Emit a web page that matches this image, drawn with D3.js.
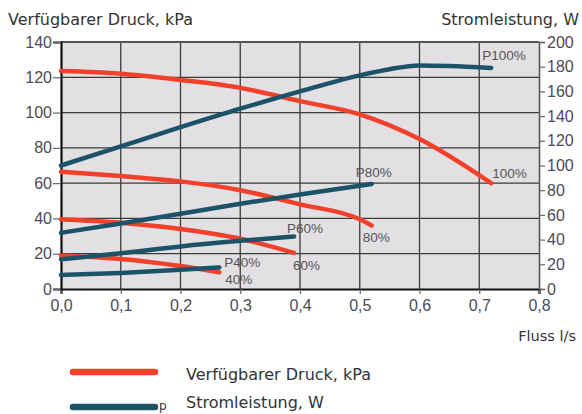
<!DOCTYPE html>
<html>
<head>
<meta charset="utf-8">
<script src="https://cdn.jsdelivr.net/npm/d3@7"></script>
<style>
  body { margin: 0; background: #fff; }
  svg { display: block; }
</style>
</head>
<body>
<svg class="svg"></svg>
<script>
// flow values (l/s) and readings per curve
const druck100 = [[0, 123.5], [0.1, 122], [0.2, 118.5], [0.3, 114], [0.4, 106.5], [0.5, 99], [0.6, 85], [0.72, 60]];
const druck80 = [[0, 66.5], [0.1, 64], [0.2, 61], [0.3, 56], [0.4, 48], [0.5, 39.5], [0.52, 36]];
const druck60 = [[0, 39.5], [0.1, 37.5], [0.2, 34], [0.3, 28.5], [0.39, 20.5]];
const druck40 = [[0, 19], [0.1, 17], [0.2, 13], [0.265, 9.5]];

const strom100 = [[0, 100], [0.1, 115.5], [0.2, 131], [0.3, 146], [0.4, 160], [0.5, 173], [0.55, 178], [0.6, 181], [0.65, 180.5], [0.72, 179]];
const strom80 = [[0, 45.5], [0.1, 53], [0.2, 61], [0.3, 69], [0.4, 76.5], [0.52, 85]];
const strom60 = [[0, 24], [0.1, 29], [0.2, 34.5], [0.3, 39], [0.39, 42.5]];
const strom40 = [[0, 11.3], [0.1, 13], [0.2, 15.5], [0.265, 17.5]];

const xTicks = [0, 0.1, 0.2, 0.3, 0.4, 0.5, 0.6, 0.7, 0.8];
const leftTicks = [0, 20, 40, 60, 80, 100, 120, 140];
const rightTicks = [0, 20, 40, 60, 80, 100, 120, 140, 160, 180, 200];

const druckLabels = ['100%', '80%', '60%', '40%'];
const stromLabels = ['P100%', 'P80%', 'P60%', 'P40%'];

const width = 582;
const height = 414;
const padding = { top: 42, right: 43, down: 125, left: 61 };

const red = '#f2402a';
const blue = '#1d5368';
const textColor = '#4b4b57';

const svg = d3.select('.svg')
  .attr('width', width)
  .attr('height', height);

const xScale = d3.scaleLinear()
  .domain([0, 0.8])
  .range([padding.left, width - padding.right]);
const yLeft = d3.scaleLinear()
  .domain([0, 140])
  .range([height - padding.down, padding.top]);
const yRight = d3.scaleLinear()
  .domain([0, 200])
  .range([height - padding.down, padding.top]);

const comma = d => d3.format('.1f')(d).replace('.', ',');

/* plot background */
svg.append('rect')
  .attr('x', xScale(0))
  .attr('y', yLeft(140))
  .attr('width', xScale(0.8) - xScale(0))
  .attr('height', yLeft(0) - yLeft(140))
  .attr('fill', '#e2e0e2');

/* grid */
svg.append('g')
  .selectAll('line')
  .data(xTicks.slice(1, -1)).enter()
  .append('line')
  .attr('x1', d => xScale(d)).attr('x2', d => xScale(d))
  .attr('y1', yLeft(140)).attr('y2', yLeft(0))
  .attr('stroke', '#3c3c3c').attr('stroke-width', 1.3);
svg.append('g')
  .selectAll('line')
  .data(leftTicks.slice(1, -1)).enter()
  .append('line')
  .attr('x1', xScale(0)).attr('x2', xScale(0.8))
  .attr('y1', d => yLeft(d)).attr('y2', d => yLeft(d))
  .attr('stroke', '#3c3c3c').attr('stroke-width', 1.3);

/* top border */
svg.append('line')
  .attr('x1', xScale(0)).attr('x2', xScale(0.8))
  .attr('y1', yLeft(140)).attr('y2', yLeft(140))
  .attr('stroke', '#555').attr('stroke-width', 2);

/* axes */
const xAxis = d3.axisBottom(xScale)
  .tickValues(xTicks)
  .tickFormat(comma)
  .tickSize(5);
const leftAxis = d3.axisLeft(yLeft)
  .tickValues(leftTicks)
  .tickSize(8);
const rightAxis = d3.axisRight(yRight)
  .tickValues(rightTicks)
  .tickSize(6);

const gx = svg.append('g')
  .attr('id', 'x-axis')
  .attr('transform', `translate(0, ${yLeft(0)})`)
  .call(xAxis);
const gl = svg.append('g')
  .attr('id', 'y-axis')
  .attr('transform', `translate(${xScale(0)}, 0)`)
  .call(leftAxis);
const gr = svg.append('g')
  .attr('id', 'y-axis-right')
  .attr('transform', `translate(${xScale(0.8)}, 0)`)
  .call(rightAxis);

[gx, gl, gr].forEach(g => {
  g.select('.domain').attr('stroke', '#111').attr('stroke-width', 2.2);
  g.selectAll('.tick line').attr('stroke', '#666').attr('stroke-width', 1.2);
  g.selectAll('.tick text')
    .attr('fill', textColor)
    .style('font-family', 'Liberation Sans, Arial, sans-serif')
    .style('font-size', '16px');
});
gr.select('.domain').attr('stroke', '#555').attr('stroke-width', 1.6);
gx.selectAll('.tick text').attr('dy', '0.85em');
gl.selectAll('.tick text').attr('x', -9);
gr.selectAll('.tick text').attr('x', 8);

/* curves */
const line = (yScale) => d3.line()
  .x(d => xScale(d[0]))
  .y(d => yScale(d[1]))
  .curve(d3.curveMonotoneX);

const druckSeries = [druck100, druck80, druck60, druck40];
const stromSeries = [strom100, strom80, strom60, strom40];

svg.append('g')
  .selectAll('path')
  .data(druckSeries).enter()
  .append('path')
  .attr('d', d => line(yLeft)(d))
  .attr('fill', 'none')
  .attr('stroke', red)
  .attr('stroke-width', 4.5)
  .attr('stroke-linecap', 'round');

svg.append('g')
  .selectAll('path')
  .data(stromSeries).enter()
  .append('path')
  .attr('d', d => line(yRight)(d))
  .attr('fill', 'none')
  .attr('stroke', blue)
  .attr('stroke-width', 4.5)
  .attr('stroke-linecap', 'round');

/* curve labels */
const labelFont = 'Liberation Sans, Arial, sans-serif';
const druckOffsets = [[1, -5], [-9, 17], [-1, 17], [6, 12]];
const stromOffsets = [[-9, -8], [-16, -7], [-7, -4], [5, 0]];

svg.append('g')
  .selectAll('text')
  .data(druckSeries).enter()
  .append('text')
  .attr('x', (d, i) => xScale(d[d.length - 1][0]) + druckOffsets[i][0])
  .attr('y', (d, i) => yLeft(d[d.length - 1][1]) + druckOffsets[i][1])
  .style('font-family', labelFont)
  .style('font-size', '13.5px')
  .attr('fill', '#555')
  .text((d, i) => druckLabels[i]);

svg.append('g')
  .selectAll('text')
  .data(stromSeries).enter()
  .append('text')
  .attr('x', (d, i) => xScale(d[d.length - 1][0]) + stromOffsets[i][0])
  .attr('y', (d, i) => yRight(d[d.length - 1][1]) + stromOffsets[i][1])
  .style('font-family', labelFont)
  .style('font-size', '13.5px')
  .attr('fill', '#555')
  .text((d, i) => stromLabels[i]);

/* titles */
const titleFont = 'DejaVu Sans, sans-serif';
svg.append('text')
  .attr('x', 8).attr('y', 25)
  .style('font-family', titleFont).style('font-size', '16px')
  .attr('fill', '#333')
  .text('Verfügbarer Druck, kPa');
svg.append('text')
  .attr('x', 579).attr('y', 25)
  .attr('text-anchor', 'end')
  .style('font-family', titleFont).style('font-size', '16px')
  .attr('fill', '#333')
  .text('Stromleistung, W');
svg.append('text')
  .attr('x', 576).attr('y', 341)
  .attr('text-anchor', 'end')
  .style('font-family', titleFont).style('font-size', '14.5px')
  .attr('fill', '#333')
  .text('Fluss l/s');

/* legend */
const legend = svg.append('g').attr('class', 'legend');
const legendItems = [
  { name: 'Verfügbarer Druck, kPa', color: red },
  { name: 'Stromleistung, W', color: blue }
];
legend.selectAll('line')
  .data(legendItems).enter()
  .append('line')
  .attr('x1', 73).attr('x2', 155)
  .attr('y1', (d, i) => 372 + i * 35).attr('y2', (d, i) => 372 + i * 35)
  .attr('stroke', d => d.color)
  .attr('stroke-width', 6.5)
  .attr('stroke-linecap', 'round');
legend.selectAll('text')
  .data(legendItems).enter()
  .append('text')
  .attr('x', 186)
  .attr('y', (d, i) => 380 + i * 28)
  .style('font-family', titleFont).style('font-size', '16px')
  .attr('fill', '#333')
  .text(d => d.name);
legend.append('text')
  .attr('x', 159).attr('y', 410)
  .style('font-family', titleFont).style('font-size', '12px')
  .attr('fill', '#333')
  .text('p');
</script>
</body>
</html>
